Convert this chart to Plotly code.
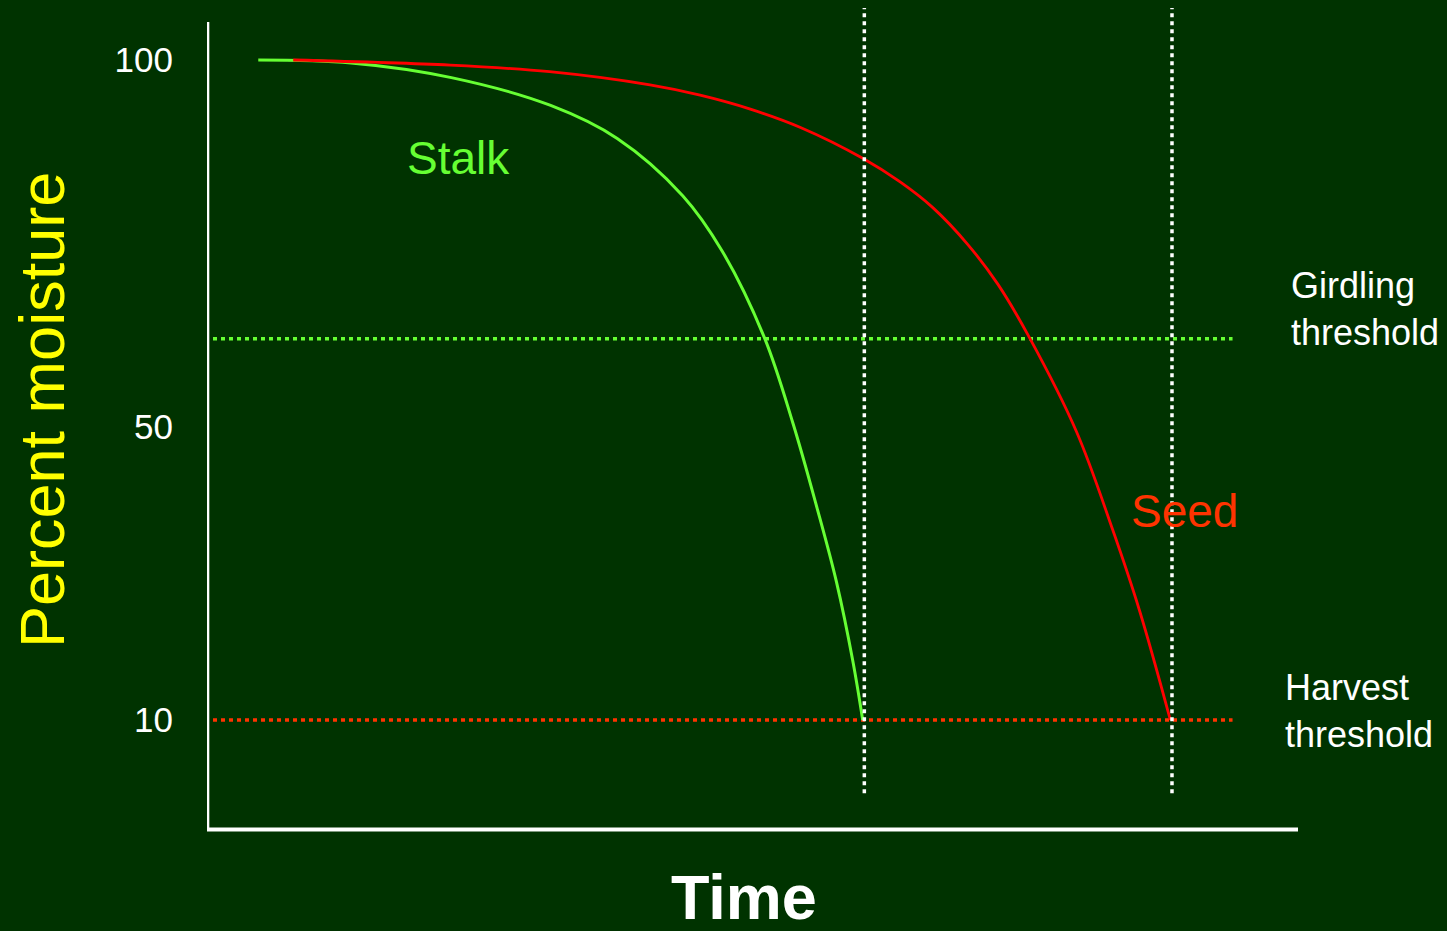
import plotly.graph_objects as go

# Drying curves (time in arbitrary units, moisture in percent)
stalk_time = [4.7, 13.2, 22.4, 31.5, 37.6, 43.6, 47.2, 51.1, 53.7, 55.9, 57.7, 59.2, 60.1]
stalk_moisture = [100, 99.6, 97.6, 93.8, 89.3, 81.5, 74.0, 62.1, 50.5, 39.0, 28.8, 18.0, 10]

seed_time = [7.9, 22.3, 31.4, 40.6, 45.2, 49.8, 54.4, 60.1, 63.5, 66.5, 69.7, 72.5, 75.4, 79.7, 83.0, 85.5, 88.3]
seed_moisture = [100, 99.3, 98.4, 96.6, 95.2, 93.3, 90.8, 86.6, 83.4, 79.9, 74.9, 69.4, 62.1, 49.3, 36.0, 24.8, 10]

# Thresholds
girdling_threshold = 62
harvest_threshold = 10
threshold_span = [0.55, 94.0]

y_ticks = [100, 50, 10]

BG = "#003300"
GREEN = "#66FF33"
RED = "#FF0000"
ORANGE = "#FF3300"
FONT = "Liberation Sans, Arial, sans-serif"

W, H = 1447, 931
L, R, T, B = 207, W - 1298, 0, 81
PW, PH = W - L - R, H - T - B


def px(xp):
    return (xp - L) / PW


def py(yp):
    return 1 - (yp - T) / PH


# y scale: 100 at 60 px, 10 at 720 px
k = (720 - 60) / 90.0
y_top = 100 + (60 - T) / k
y_bot = y_top - PH / k

fig = go.Figure()
fig.add_trace(go.Scatter(x=stalk_time, y=stalk_moisture, mode="lines",
                         line=dict(color=GREEN, width=3, shape="spline", smoothing=1.0),
                         hoverinfo="skip"))
fig.add_trace(go.Scatter(x=seed_time, y=seed_moisture, mode="lines",
                         line=dict(color=RED, width=2.8, shape="spline", smoothing=1.0),
                         hoverinfo="skip"))

dots = "4px,4px"
shapes = [
    # threshold lines
    dict(type="line", xref="x", yref="y", x0=threshold_span[0], x1=threshold_span[1],
         y0=girdling_threshold, y1=girdling_threshold,
         line=dict(color=GREEN, width=3.5, dash=dots), layer="below"),
    dict(type="line", xref="x", yref="y", x0=threshold_span[0], x1=threshold_span[1],
         y0=harvest_threshold, y1=harvest_threshold,
         line=dict(color=ORANGE, width=3.5, dash=dots), layer="below"),
    # harvest-time markers
    dict(type="line", xref="x", yref="y", x0=stalk_time[-1] + 0.15, x1=stalk_time[-1] + 0.15,
         y0=0, y1=107.1, line=dict(color="white", width=3.5, dash=dots)),
    dict(type="line", xref="x", yref="y", x0=seed_time[-1] + 0.15, x1=seed_time[-1] + 0.15,
         y0=0, y1=107.1, line=dict(color="white", width=3.5, dash=dots)),
    # axes
    dict(type="line", xref="x", yref="y", x0=0.05, x1=0.05, y0=y_bot + (850 - 831) / k,
         y1=100 + (60 - 22) / k, line=dict(color="white", width=3.5)),
    dict(type="line", xref="x", yref="y", x0=0, x1=100, y0=10 - (829.5 - 720) / k,
         y1=10 - (829.5 - 720) / k, line=dict(color="white", width=4)),
]

annotations = [
    dict(text="Percent moisture", xref="paper", yref="paper", x=px(42), y=py(410),
         textangle=-90, showarrow=False, xanchor="center", yanchor="middle",
         font=dict(family=FONT, size=63, color="#FFFF00")),
    dict(text="<b>Time</b>", xref="paper", yref="paper", x=px(744), y=py(897),
         showarrow=False, xanchor="center", yanchor="middle",
         font=dict(family=FONT, size=63, color="white")),
    dict(text="Stalk", xref="paper", yref="paper", x=px(458), y=py(158),
         showarrow=False, xanchor="center", yanchor="middle",
         font=dict(family=FONT, size=46, color=GREEN)),
    dict(text="Seed", xref="paper", yref="paper", x=px(1184), y=py(511),
         showarrow=False, xanchor="center", yanchor="middle",
         font=dict(family=FONT, size=46, color=ORANGE)),
    dict(text="Girdling<br>threshold", xref="paper", yref="paper", x=px(1289), y=py(309),
         showarrow=False, xanchor="left", yanchor="middle", align="left",
         font=dict(family=FONT, size=36, color="white")),
    dict(text="Harvest<br>threshold", xref="paper", yref="paper", x=px(1283), y=py(711),
         showarrow=False, xanchor="left", yanchor="middle", align="left",
         font=dict(family=FONT, size=36, color="white")),
]

fig.update_layout(
    width=W, height=H, autosize=False,
    margin=dict(l=L, r=R, t=T, b=B, pad=0),
    paper_bgcolor=BG, plot_bgcolor=BG,
    showlegend=False,
    shapes=shapes,
    annotations=annotations,
    xaxis=dict(range=[0, 100], showgrid=False, zeroline=False, showline=False,
               showticklabels=False, ticks=""),
    yaxis=dict(range=[y_bot, y_top], showgrid=False, zeroline=False, showline=False,
               tickvals=y_ticks, ticks="", ticklabelstandoff=33,
               tickfont=dict(family=FONT, size=35, color="white")),
)

fig.write_html("out.html")
